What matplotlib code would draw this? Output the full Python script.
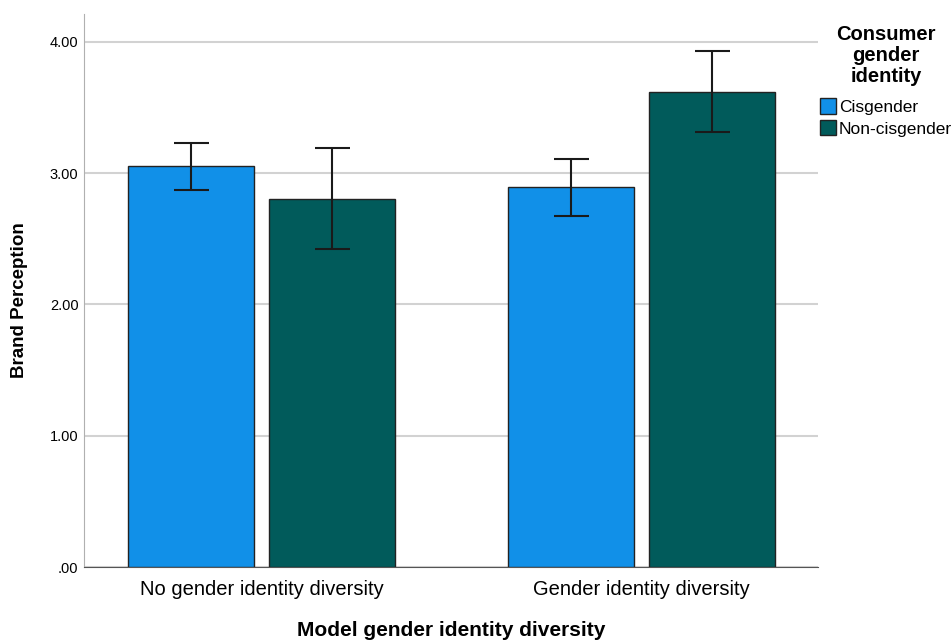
import numpy as np
import matplotlib
matplotlib.use("Agg")
import matplotlib.pyplot as plt
from matplotlib.patches import Patch

plt.rcParams['font.family'] = ['Liberation Sans', 'DejaVu Sans']

# group means and 95% CI bounds of brand perception
groups = ["No gender identity diversity", "Gender identity diversity"]
series = ["Cisgender", "Non-cisgender"]
cis_mean = [3.05, 2.89]
cis_low = [2.87, 2.67]
cis_high = [3.23, 3.11]
non_mean = [2.80, 3.62]
non_low = [2.42, 3.31]
non_high = [3.19, 3.93]
yticks = [0, 1, 2, 3, 4]
ytick_labels = [".00", "1.00", "2.00", "3.00", "4.00"]

colors = ["#1190E8", "#015B5B"]

fig = plt.figure(figsize=(9.52, 6.41), dpi=100)
ax = fig.add_axes([0.0882, 0.1154, 0.771, 0.8626])

x = np.arange(len(groups))
w = 0.332
off = 0.1855
for i, (m, lo, hi) in enumerate([(cis_mean, cis_low, cis_high),
                                 (non_mean, non_low, non_high)]):
    pos = x + (off if i else -off)
    m = np.array(m)
    err = [m - np.array(lo), np.array(hi) - m]
    ax.bar(pos, m, width=w, color=colors[i], edgecolor="#222222",
           linewidth=1.0, zorder=3)
    ax.errorbar(pos, m, yerr=err, fmt="none", ecolor="#1a1a1a",
                elinewidth=1.5, capsize=12.6, capthick=1.5, zorder=4)

ax.set_xlim(-0.467, 1.4645)
ax.set_ylim(0, 4.21)
ax.set_yticks(yticks)
ax.set_yticklabels(ytick_labels, fontsize=10.5)
ax.set_xticks(x)
ax.set_xticklabels(groups, fontsize=14.5)
ax.tick_params(axis="y", length=0, pad=4)
ax.tick_params(axis="x", length=0, pad=9)
ax.yaxis.grid(True, color="#d2d2d2", linewidth=1.5, zorder=0)
ax.set_axisbelow(True)
for s in ["top", "right"]:
    ax.spines[s].set_visible(False)
ax.spines["left"].set_color("#b0b0b0")
ax.spines["bottom"].set_color("#555555")

fig.text(451 / 952, 1 - 631 / 641, "Model gender identity diversity",
         fontsize=15, fontweight="bold", ha="center", va="center")
fig.text(20 / 952, 1 - 300 / 641, "Brand Perception", fontsize=13.5,
         fontweight="bold", rotation=90, ha="center", va="center")

# legend heading drawn separately so its spacing can be set
fig.text(886 / 952, 1 - 25 / 641, "Consumer\ngender\nidentity",
         fontsize=14.5, fontweight="bold", ha="center", va="top",
         multialignment="center", linespacing=1.15)

handles = [Patch(facecolor=c, edgecolor="#222222", label=l)
           for c, l in zip(colors, series)]
leg = fig.legend(handles=handles, loc="upper left",
                 bbox_to_anchor=(820 / 952, 1 - 98 / 641),
                 frameon=False, fontsize=12.5, handlelength=0.95,
                 handleheight=1.0, handletextpad=0.15, labelspacing=0.3,
                 borderaxespad=0, borderpad=0)

fig.savefig("out.png", dpi=100)
